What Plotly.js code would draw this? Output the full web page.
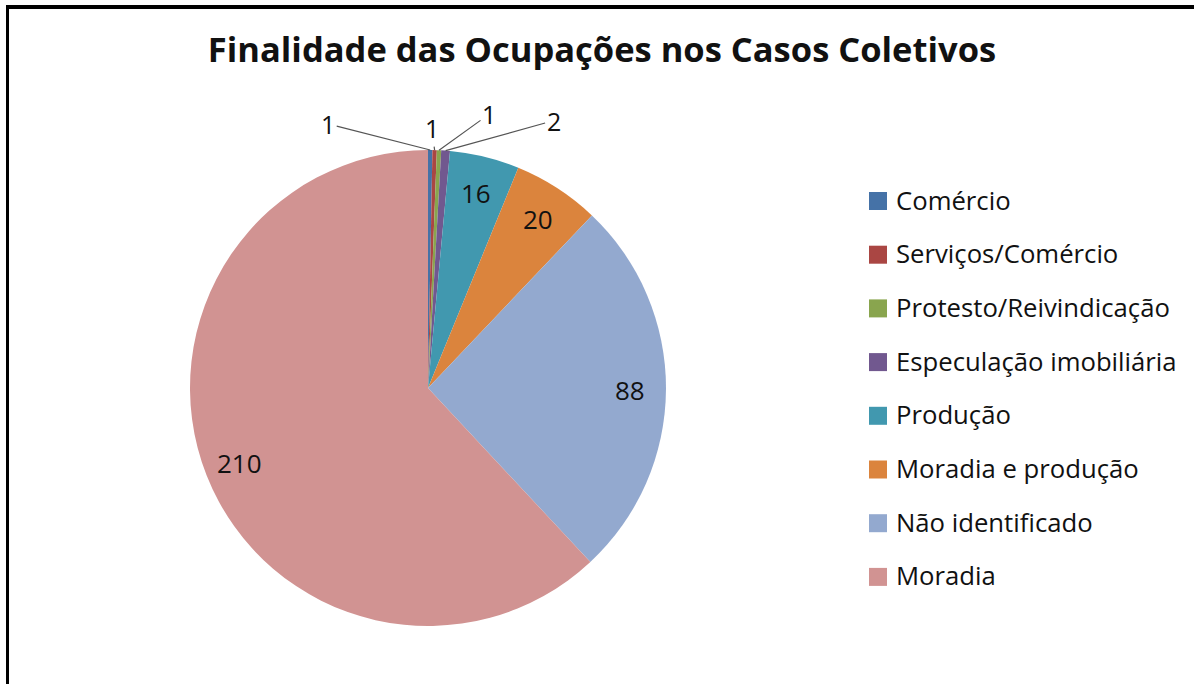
<!DOCTYPE html>
<html>
<head>
<meta charset="utf-8">
<script src="https://cdn.plot.ly/plotly-3.0.1.min.js"></script>
<style>html,body{margin:0;padding:0;background:#fff;}#chart{width:1194px;height:684px;}</style>
</head>
<body>
<div id="chart"></div>
<script>
const categories = ["Comércio","Serviços/Comércio","Protesto/Reivindicação","Especulação imobiliária","Produção","Moradia e produção","Não identificado","Moradia"];
const values = [1,1,1,2,16,20,88,210];
const colors = ["#4572A7","#AA4643","#89A54E","#71588F","#4198AF","#DB843D","#93A9CF","#D19392"];
// label offsets (px) for the small slices' outside labels, by index
const outsideLabelOffsets = {0:[-102,-26],1:[-3,-22],2:[50,-36],3:[108,-30]};

const W = 1194, H = 684;
const cx = 428, cy = 388, R = 238;
const FONT = "Open Sans, Noto Sans, sans-serif";

const total = values.reduce((a,b)=>a+b,0);
const annotations = [];
let cum = 0;
values.forEach((v,i)=>{
  const mid = (cum + v/2)/total * 2*Math.PI;
  cum += v;
  if (outsideLabelOffsets[i]) {
    const px = cx + R*Math.sin(mid), py = cy - R*Math.cos(mid);
    const off = outsideLabelOffsets[i];
    annotations.push({xref:'paper', yref:'paper', x:px/W, y:1-py/H, ax:off[0], ay:off[1],
      text:String(v), showarrow:true, arrowhead:0, arrowwidth:1.2, arrowcolor:'#555',
      standoff:0, startstandoff:0, font:{family:FONT, size:25, color:'#111'}});
  } else {
    const r = 0.85*R;
    const px = cx + r*Math.sin(mid), py = cy - r*Math.cos(mid);
    annotations.push({xref:'paper', yref:'paper', x:px/W, y:1-(py+1)/H, xanchor:'center', yanchor:'middle',
      text:String(v), showarrow:false, font:{family:FONT, size:26, color:'#111'}});
  }
});

// custom legend (rows spaced like the reference)
const shapes = [];
const legY0 = 201, legDy = 53.7, sqX = 869, sq = 18, txtX = 894;
categories.forEach((c,i)=>{
  const y = legY0 + i*legDy;
  shapes.push({type:'rect', xref:'paper', yref:'paper', x0:sqX/W, x1:(sqX+sq)/W, y0:1-(y-sq/2)/H, y1:1-(y+sq/2)/H,
    fillcolor:colors[i], line:{width:0}});
  annotations.push({xref:'paper', yref:'paper', x:txtX/W, y:1-(y-1)/H, xanchor:'left', yanchor:'middle',
    text:c, showarrow:false, font:{family:FONT, size:25.7, color:'#111'}});
});

// frame
shapes.push({type:'line', xref:'paper', yref:'paper', x0:6/W, x1:1, y0:1-7/H, y1:1-7/H, line:{color:'#000', width:4}});
shapes.push({type:'line', xref:'paper', yref:'paper', x0:7.5/W, x1:7.5/W, y0:1-5/H, y1:0, line:{color:'#000', width:3}});

const data = [{
  type:'pie', labels:categories, values:values, sort:false, direction:'clockwise', rotation:0,
  marker:{colors:colors, line:{width:0}}, textinfo:'none', hoverinfo:'label+value', showlegend:false,
  domain:{x:[(cx-R)/W,(cx+R)/W], y:[(H-cy-R)/H,(H-cy+R)/H]}
}];

const layout = {
  width:W, height:H, margin:{l:0,r:0,t:0,b:0}, paper_bgcolor:'#fff',
  title:{text:'<b>Finalidade das Ocupações nos Casos Coletivos</b>', x:602/W, xanchor:'center', xref:'paper',
    y:1-50/H, yanchor:'middle', yref:'container', font:{family:FONT, size:34.5, color:'#111'}},
  showlegend:false, annotations:annotations, shapes:shapes
};
Plotly.newPlot('chart', data, layout, {staticPlot:true});
</script>
</body>
</html>
